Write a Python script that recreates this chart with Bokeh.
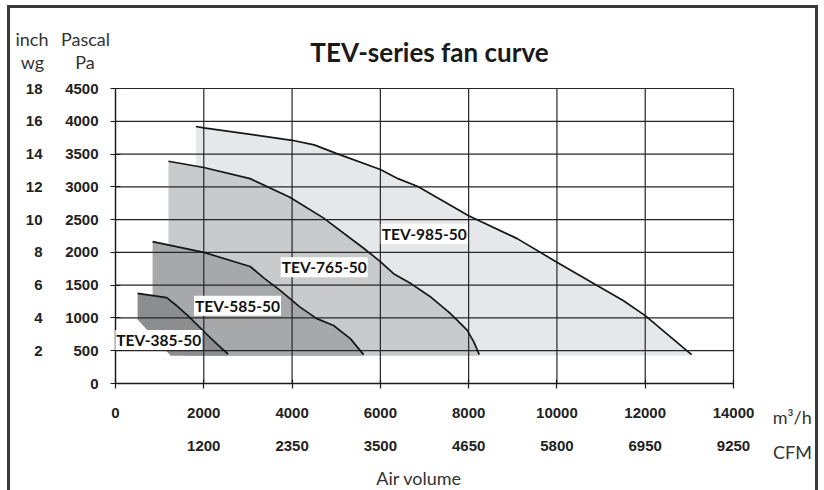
from bokeh.plotting import figure
from bokeh.models import LinearAxis, FixedTicker, Label, Range1d
from bokeh.embed import file_html
from bokeh.resources import INLINE

# ---------------- data ----------------
x_ticks = [0, 2000, 4000, 6000, 8000, 10000, 12000, 14000]
m3h_tick_labels = ["0", "2000", "4000", "6000", "8000", "10000", "12000", "14000"]
cfm_tick_labels = ["", "1200", "2350", "3500", "4650", "5800", "6950", "9250"]

y_ticks = [0, 500, 1000, 1500, 2000, 2500, 3000, 3500, 4000, 4500]
pa_tick_labels = ["0", "500", "1000", "1500", "2000", "2500", "3000", "3500", "4000", "4500"]
inch_tick_labels = ["", "2", "4", "6", "8", "10", "12", "14", "16", "18"]

fan_names = ["TEV-985-50", "TEV-765-50", "TEV-585-50", "TEV-385-50"]

flow_985 = [1820, 2000, 4000, 4500, 5000, 6000, 6400, 6850, 8000, 9100, 10000, 10900, 11500, 12000, 12450, 13050]
press_985 = [3920, 3900, 3710, 3640, 3510, 3265, 3125, 3005, 2560, 2210, 1850, 1500, 1265, 1035, 780, 440]

flow_765 = [1200, 2000, 3050, 3950, 4050, 4700, 5600, 6000, 6300, 6700, 7150, 7550, 7750, 7970, 8120, 8240]
press_765 = [3390, 3295, 3125, 2840, 2800, 2530, 2075, 1860, 1675, 1520, 1315, 1090, 960, 810, 630, 440]

flow_585 = [840, 2000, 3050, 3350, 3730, 4180, 4560, 4940, 5320, 5620]
press_585 = [2165, 2000, 1785, 1615, 1420, 1165, 990, 885, 685, 440]

flow_385 = [500, 1160, 1380, 1680, 2060, 2330, 2550]
press_385 = [1375, 1310, 1190, 1010, 755, 580, 450]

# fan label anchor points (air volume, pressure)
label_flow = [6993, 4728, 2764, 981]
label_press = [2283, 1774, 1185, 664]

# ---------------- layout / styling ----------------
W, H = 811, 485                 # figure size (border included, border-box)
ORG_X, ORG_Y = 10, 8            # canvas origin on the page (margin + border)
PX_X0, PX_X1 = 115, 733         # page x of first / last x tick
PX_Y0, PX_Y1 = 383, 88          # page y of first / last y tick

fills = ["#e6e7e9", "#c9cacc", "#a7a8aa", "#8c8d8f"]
shade_floor = 425      # Pa, bottom of the shaded bodies
chamfer_dx = 750       # m3/h
chamfer_dy = 550       # Pa
grid_col = "#262626"
tick_font = "Liberation Sans"
deco_font = "Lato"

xmin, xmax = x_ticks[0], x_ticks[-1]
ymin, ymax = y_ticks[0], y_ticks[-1]
def dx(px):
    return xmin + (px - PX_X0) * (xmax - xmin) / (PX_X1 - PX_X0)
def dy(py):
    return ymin + (PX_Y0 - py) * (ymax - ymin) / (PX_Y0 - PX_Y1)

curves = [(flow_985, press_985), (flow_765, press_765), (flow_585, press_585), (flow_385, press_385)]

p = figure(width=W, height=H,
           x_range=Range1d(dx(ORG_X), dx(ORG_X + W)),
           y_range=Range1d(dy(ORG_Y + H), dy(ORG_Y)),
           output_backend="svg", toolbar_location=None,
           min_border_left=0, min_border_right=0, min_border_top=0, min_border_bottom=0,
           background_fill_color="white", border_fill_color="white",
           outline_line_color=None)
p.grid.visible = False

p.styles = {"margin-left": "7px", "margin-top": "5px",
            "border-top": "3px solid #3a3a3a", "border-left": "3px solid #3a3a3a",
            "border-right": "3px solid #3a3a3a"}

# shaded bodies
for (fx, fy), col in zip(curves, fills):
    xs = list(fx) + [fx[-1], fx[0] + chamfer_dx, fx[0]]
    ys = list(fy) + [shade_floor, shade_floor, shade_floor + chamfer_dy]
    p.patch(xs, ys, fill_color=col, line_color=None)

# grid lines at the tick values
p.segment(x0=x_ticks, y0=[ymin] * len(x_ticks), x1=x_ticks, y1=[ymax] * len(x_ticks),
          line_color=grid_col, line_width=1.2)
p.segment(x0=[xmin] * len(y_ticks), y0=y_ticks, x1=[xmax] * len(y_ticks), y1=y_ticks,
          line_color=grid_col, line_width=1.2)

# fan curves
for fx, fy in curves:
    p.line(fx, fy, line_color="#161616", line_width=1.7)

def style_labels(ax):
    ax.major_label_text_font = tick_font
    ax.major_label_text_font_size = "15px"
    ax.major_label_text_font_style = "bold"
    ax.major_label_text_color = "#222222"
    ax.minor_tick_line_color = None

# primary x axis (m3/h)
xa = p.below[0]
xa.fixed_location = ymin
xa.bounds = (xmin, xmax)
xa.ticker = FixedTicker(ticks=x_ticks)
xa.major_label_overrides = {t: s for t, s in zip(x_ticks, m3h_tick_labels)}
xa.axis_line_color = "#1a1a1a"
xa.axis_line_width = 1.3
xa.major_tick_line_color = "#1a1a1a"
xa.major_tick_line_width = 1.2
xa.major_tick_in = 4
xa.major_tick_out = 5
xa.major_label_standoff = 19
style_labels(xa)

# primary y axis (Pa)
ya = p.left[0]
ya.fixed_location = xmin
ya.bounds = (ymin, ymax)
ya.ticker = FixedTicker(ticks=y_ticks)
ya.major_label_overrides = {t: s for t, s in zip(y_ticks, pa_tick_labels)}
ya.axis_line_color = "#1a1a1a"
ya.axis_line_width = 1.3
ya.major_tick_line_color = "#1a1a1a"
ya.major_tick_line_width = 1.2
ya.major_tick_in = 5
ya.major_tick_out = 5
ya.major_label_standoff = 12
style_labels(ya)

# secondary x axis (CFM)
cfm = LinearAxis(ticker=FixedTicker(ticks=x_ticks), fixed_location=dy(439), bounds=(xmin, xmax),
                 major_label_overrides={t: s for t, s in zip(x_ticks, cfm_tick_labels)},
                 axis_line_color=None, major_tick_line_color=None,
                 major_tick_in=0, major_tick_out=0, major_label_standoff=1)
style_labels(cfm)
p.add_layout(cfm, "below")

# secondary y axis (inch wg)
inch = LinearAxis(ticker=FixedTicker(ticks=y_ticks), fixed_location=dx(43), bounds=(ymin, ymax),
                  major_label_overrides={t: s for t, s in zip(y_ticks, inch_tick_labels)},
                  axis_line_color=None, major_tick_line_color=None,
                  major_tick_in=0, major_tick_out=0, major_label_standoff=1)
style_labels(inch)
p.add_layout(inch, "left")

# fan labels
for name, lx, ly in zip(fan_names, label_flow, label_press):
    p.add_layout(Label(x=lx, y=ly, text=name, text_align="center", text_baseline="middle",
                       text_font=deco_font, text_font_size="15.5px", text_font_style="bold",
                       text_color="#111111", background_fill_color="white", padding=1))

# title, units and axis caption
def deco(text, px, py, size="18px", style="normal", color="#333333"):
    p.add_layout(Label(x=dx(px), y=dy(py), text=text,
                       text_align="center", text_baseline="alphabetic",
                       text_font=deco_font, text_font_size=size, text_font_style=style,
                       text_color=color))

deco("TEV-series fan curve", 429, 51.7, size="26px", style="bold", color="#1a1a1a")
deco("inch", 31.5, 38.3)
deco("wg", 32, 61.7)
deco("Pascal", 85, 38.3)
deco("Pa", 84.5, 61.7)
deco("m³/h", 791.7, 416.7)
deco("CFM", 792, 451.7)
deco("Air volume", 418.6, 477)

open("out.html", "w").write(file_html(p, INLINE))
